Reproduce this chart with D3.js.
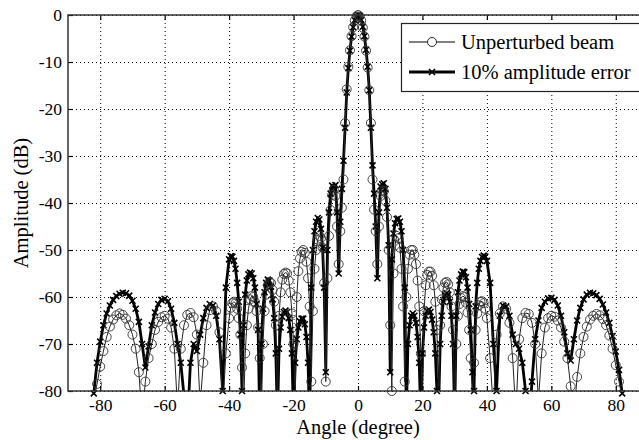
<!DOCTYPE html>
<html>
<head>
<meta charset="utf-8">
<script src="https://cdn.jsdelivr.net/npm/d3@7"></script>
<style>
  body { margin: 0; background: #fff; }
  svg { display: block; }
</style>
</head>
<body>
<div id="chart"></div>
<script>
// angle samples (degree): 1 deg in the far lobes, 0.5 deg within +-40
const angles = [
  -82, -81, -80, -79, -78, -77, -76, -75, -74, -73,
  -72, -71, -70, -69, -68, -67, -66, -65, -64, -63,
  -62, -61, -60, -59, -58, -57, -56, -55, -54, -53,
  -52, -51, -50, -49, -48, -47, -46, -45, -44, -43,
  -42, -41,
  -40, -39.5, -39, -38.5, -38, -37.5, -37, -36.5, -36, -35.5,
  -35, -34.5, -34, -33.5, -33, -32.5, -32, -31.5, -31, -30.5,
  -30, -29.5, -29, -28.5, -28, -27.5, -27, -26.5, -26, -25.5,
  -25, -24.5, -24, -23.5, -23, -22.5, -22, -21.5, -21, -20.5,
  -20, -19.5, -19, -18.5, -18, -17.5, -17, -16.5, -16, -15.5,
  -15, -14.5, -14, -13.5, -13, -12.5, -12, -11.5, -11, -10.5,
  -10, -9.5, -9, -8.5, -8, -7.5, -7, -6.5,
  -6, -5.5, -5, -4.5, -4, -3.5, -3, -2.5, -2, -1.5, -1, -0.5,
  0, 0.5, 1, 1.5, 2, 2.5, 3, 3.5, 4, 4.5, 5, 5.5, 6,
  6.5, 7, 7.5, 8, 8.5, 9, 9.5, 10, 10.5, 11,
  11.5, 12, 12.5, 13, 13.5, 14, 14.5, 15, 15.5, 16,
  16.5, 17, 17.5, 18, 18.5, 19, 19.5, 20, 20.5, 21,
  21.5, 22, 22.5, 23, 23.5, 24, 24.5, 25, 25.5, 26,
  26.5, 27, 27.5, 28, 28.5, 29, 29.5, 30, 30.5, 31,
  31.5, 32, 32.5, 33, 33.5, 34, 34.5, 35, 35.5, 36,
  36.5, 37, 37.5, 38, 38.5, 39, 39.5, 40,
  41, 42, 43, 44, 45, 46, 47, 48, 49, 50,
  51, 52, 53, 54, 55, 56, 57, 58, 59, 60,
  61, 62, 63, 64, 65, 66, 67, 68, 69, 70,
  71, 72, 73, 74, 75, 76, 77, 78, 79, 80,
  81, 82
];

// unperturbed beam (dB)
const unperturbedDb = [
  -82, -78.5, -74.8, -71.5, -68.5, -66.3, -64.8, -63.9, -63.5, -63.8,
  -64.6, -66, -68, -71, -76, -86, -78, -73, -70, -67,
  -65.3, -64.3, -64, -64.6, -66.5, -71, -84, -71, -66, -63.8,
  -63.4, -64.3, -68, -83, -74, -66, -62.8, -62, -63, -67.5,
  -84, -72,
  -64.5, -62.3, -61.3, -61, -61.3, -62.5, -64.5, -68, -75, -84,
  -72, -66, -62.5, -60.5, -59.8, -60, -61, -63, -66.5, -73,
  -85, -70, -63, -59.5, -57.5, -56.8, -57, -58.5, -61, -66,
  -82, -64, -59, -56.3, -55.1, -54.8, -55, -56.5, -59, -63.5,
  -70, -82, -60, -54.5, -51.8, -50.4, -50, -50.6, -52.5, -56,
  -62, -78, -63, -54, -50, -47.8, -47, -47.5, -49.5, -57,
  -78, -56, -47, -41.5, -38.3, -37.2, -38.5, -45,
  -53, -46, -41, -35, -23, -15.8, -11, -7.5, -4.5, -2.6, -1.2, -0.3,
  0, -0.3, -1.2, -2.7, -4.6, -7.6, -11.2, -16, -23, -35, -41.4, -46, -53,
  -45, -38.5, -37.3, -37.5, -39.5, -43, -50, -66, -80, -55,
  -49, -47, -47.5, -49.5, -54, -62, -78, -60, -54, -51,
  -50, -50, -51, -53, -56.5, -62, -72, -82, -63, -57.5,
  -55.3, -54.6, -54.6, -55.5, -57.5, -61, -67, -84, -66, -60.5,
  -58, -57, -56.8, -57.3, -59, -62, -67, -82, -70, -64,
  -61.5, -60.2, -59.8, -60, -61.2, -63.3, -67, -73, -82, -74,
  -67, -63.5, -61.8, -61, -60.9, -61.3, -62.5, -64.5,
  -73, -84, -68, -63.5, -62, -62.5, -65.5, -73, -85, -69,
  -64.5, -63.4, -63.6, -65.5, -70, -82, -72, -66.5, -64.5, -64,
  -64.2, -65, -66.5, -69.5, -73, -79, -85, -77, -72, -68.5,
  -66.3, -64.8, -64, -63.6, -63.9, -64.7, -66, -68.2, -71, -74.5,
  -78, -81.5
];

// 10% amplitude error (dB)
const amplitudeErrorDb = [
  -80.5, -74, -69.5, -66, -63.5, -61.8, -60.6, -59.8, -59.3, -59.1,
  -59.2, -59.7, -60.8, -62.5, -65.3, -70, -75, -70.5, -66, -63.3,
  -61.5, -60.6, -60.4, -60.9, -62.5, -65.5, -70, -74, -81, -88,
  -74, -70, -71.5, -68, -64.5, -62.3, -61.5, -61.8, -64, -69,
  -80, -58,
  -52, -51.3, -51.4, -52.3, -54, -57, -61, -68, -80, -66,
  -59.5, -56.5, -55.2, -54.8, -55, -56, -58, -61.5, -67, -86,
  -70, -62.5, -59, -57, -56.3, -56.5, -57.8, -60.5, -64.5, -72,
  -86, -71, -66.5, -64.2, -63.2, -62.9, -63.2, -64.5, -67, -72,
  -86, -74, -69, -66.5, -65.2, -64.6, -64.6, -65.8, -68.5, -74,
  -88, -58, -50, -46, -44, -43.2, -43.5, -45.5, -49.5, -58,
  -76, -50, -42, -38, -36.3, -36.8, -36.2, -42,
  -55, -44, -37, -31, -24, -16.5, -11.3, -7.6, -4.6, -2.6, -1.1, -0.3,
  0, -0.2, -1, -2.5, -4.5, -7.4, -11, -16, -24, -32, -38, -45, -56,
  -42, -36.5, -36, -35.8, -37, -41, -49, -76, -52, -46.5,
  -44.3, -43.4, -43.3, -44, -46, -50, -58, -85, -70, -66,
  -64, -63.5, -64, -65.5, -68.5, -74, -86, -72, -66.5, -64,
  -63, -62.7, -63.2, -64.8, -67.5, -72, -80, -84, -70, -64,
  -61, -59.6, -59.2, -59.5, -61, -64, -70, -86, -64, -59,
  -56.5, -55.2, -54.6, -54.7, -55.8, -58, -61.5, -67, -76, -80,
  -62, -57, -54, -52.3, -51.5, -51.2, -51.4, -52.3,
  -57, -70, -80, -64, -61.8, -62, -64, -68, -70, -71,
  -74, -80, -88, -78, -69, -65, -62.3, -61, -60.3, -60.2,
  -60.6, -61.8, -64, -67.5, -72, -73.5, -69, -65, -62.3, -60.5,
  -59.5, -59.1, -59.2, -59.6, -60.4, -61.6, -63.3, -65.5, -68.3, -71.6,
  -75.5, -80.5
];

const xTickValues = [-80, -60, -40, -20, 0, 20, 40, 60, 80];
const yTickValues = [0, -10, -20, -30, -40, -50, -60, -70, -80];
const legendLabels = ['Unperturbed beam', '10% amplitude error'];

const SERIF = '"Liberation Serif", "DejaVu Serif", "Times New Roman", Times, serif';
const X_MARK = 'M-3,-3L3,3M-3,3L3,-3';

class PatternChart {
  constructor(_config) {
    this.config = {
      parentElement: _config.parentElement,
      containerWidth: 639,
      containerHeight: 440,
      margin: { top: 15, right: -9, bottom: 49, left: 68 },
    };
    this.initVis();
  }

  initVis() {
    const vis = this;
    vis.width = vis.config.containerWidth - vis.config.margin.left - vis.config.margin.right;
    vis.height = vis.config.containerHeight - vis.config.margin.top - vis.config.margin.bottom;

    if (angles.length !== unperturbedDb.length || angles.length !== amplitudeErrorDb.length) {
      throw new Error(`length mismatch ${angles.length} ${unperturbedDb.length} ${amplitudeErrorDb.length}`);
    }

    vis.svg = d3.select(vis.config.parentElement)
      .append('svg')
      .attr('width', vis.config.containerWidth)
      .attr('height', vis.config.containerHeight)
      .attr('font-family', SERIF);

    vis.chartArea = vis.svg.append('g')
      .attr('transform', `translate(${vis.config.margin.left},${vis.config.margin.top})`);

    vis.chartArea.append('clipPath')
      .attr('id', 'plot-clip')
      .append('rect')
      .attr('width', vis.width)
      .attr('height', vis.height);

    vis.xScale = d3.scaleLinear().domain([-90, 90]).range([0, vis.width]);
    vis.yScale = d3.scaleLinear().domain([-80, 0]).range([vis.height, 0]);

    vis.data = angles.map((a, i) => ({ angle: a, u: unperturbedDb[i], e: amplitudeErrorDb[i] }));

    vis.renderVis();
  }

  renderVis() {
    const vis = this;
    const x = vis.xScale;
    const y = vis.yScale;

    // dotted grid
    const grid = vis.chartArea.append('g').attr('class', 'grid')
      .attr('stroke', '#000')
      .attr('stroke-width', 1)
      .attr('stroke-dasharray', '1,3');
    grid.selectAll('.vgrid')
      .data(xTickValues)
      .join('line')
      .attr('x1', (d) => x(d) + 0.5)
      .attr('x2', (d) => x(d) + 0.5)
      .attr('y1', 0)
      .attr('y2', vis.height);
    grid.selectAll('.hgrid')
      .data(yTickValues)
      .join('line')
      .attr('x1', 0)
      .attr('x2', vis.width)
      .attr('y1', (d) => y(d) + 0.5)
      .attr('y2', (d) => y(d) + 0.5);

    const plot = vis.chartArea.append('g').attr('clip-path', 'url(#plot-clip)');

    const lineE = d3.line().x((d) => x(d.angle)).y((d) => y(d.e));
    const lineU = d3.line().x((d) => x(d.angle)).y((d) => y(d.u));

    // 10% amplitude error: thick line with x markers
    plot.append('path')
      .datum(vis.data)
      .attr('d', lineE)
      .attr('fill', 'none')
      .attr('stroke', '#000')
      .attr('stroke-width', 2.8)
      .attr('stroke-linejoin', 'round');

    vis.chartArea.selectAll('.mark-e')
      .data(vis.data.filter((d) => d.e >= -80.5))
      .join('path')
      .attr('class', 'mark-e')
      .attr('transform', (d) => `translate(${x(d.angle)},${y(d.e)})`)
      .attr('d', X_MARK)
      .attr('stroke', '#000')
      .attr('stroke-width', 1.6);

    // unperturbed: thin line with open circles
    plot.append('path')
      .datum(vis.data)
      .attr('d', lineU)
      .attr('fill', 'none')
      .attr('stroke', '#222')
      .attr('stroke-width', 1);

    vis.chartArea.selectAll('.mark-u')
      .data(vis.data.filter((d) => d.u >= -80.5))
      .join('circle')
      .attr('class', 'mark-u')
      .attr('cx', (d) => x(d.angle))
      .attr('cy', (d) => y(d.u))
      .attr('r', 4.5)
      .attr('fill', 'none')
      .attr('stroke', '#333')
      .attr('stroke-width', 0.9);

    // axes with inward ticks
    const xAxis = d3.axisBottom(x).tickValues(xTickValues).tickSize(-5).tickPadding(8)
      .tickFormat((d) => String(d));
    const yAxis = d3.axisLeft(y).tickValues(yTickValues).tickSize(-5).tickPadding(6)
      .tickFormat((d) => String(d));
    const xTop = d3.axisTop(x).tickValues(xTickValues).tickSize(-5).tickFormat('');

    const xAxisG = vis.chartArea.append('g')
      .attr('transform', `translate(0,${vis.height})`)
      .call(xAxis);
    const yAxisG = vis.chartArea.append('g').call(yAxis);
    const xTopG = vis.chartArea.append('g').call(xTop);

    [xAxisG, yAxisG, xTopG].forEach((g) => {
      g.attr('font-family', SERIF).attr('font-size', 17.5);
      g.select('.domain').remove();
      g.selectAll('line').attr('stroke', '#000').attr('stroke-width', 1.2);
      g.selectAll('text').attr('fill', '#000');
    });

    // box
    vis.chartArea.append('rect')
      .attr('width', vis.width)
      .attr('height', vis.height)
      .attr('fill', 'none')
      .attr('stroke', '#333')
      .attr('stroke-width', 1.5);

    // axis titles
    vis.svg.append('text')
      .attr('x', 358)
      .attr('y', 434)
      .attr('text-anchor', 'middle')
      .attr('font-size', 20.5)
      .text('Angle (degree)');

    vis.svg.append('text')
      .attr('transform', 'translate(28,203) rotate(-90)')
      .attr('text-anchor', 'middle')
      .attr('font-size', 20.5)
      .text('Amplitude (dB)');

    // legend
    const legend = vis.svg.append('g').attr('transform', 'translate(401,23)');
    legend.append('rect')
      .attr('x', 0.5)
      .attr('y', 0.5)
      .attr('width', 250)
      .attr('height', 68)
      .attr('fill', '#fff')
      .attr('stroke', '#222')
      .attr('stroke-width', 1.2);

    const rows = legend.selectAll('.legend-row')
      .data(legendLabels)
      .join('g')
      .attr('class', 'legend-row')
      .attr('transform', (d, i) => `translate(0,${19 + i * 30})`);

    rows.append('line')
      .attr('x1', 8)
      .attr('x2', 54)
      .attr('stroke', '#000')
      .attr('stroke-width', (d, i) => (i === 0 ? 1 : 2.8));

    rows.filter((d, i) => i === 0).append('circle')
      .attr('cx', 31)
      .attr('r', 4.5)
      .attr('fill', '#fff')
      .attr('stroke', '#222')
      .attr('stroke-width', 1);

    rows.filter((d, i) => i === 1).append('path')
      .attr('transform', 'translate(31,0)')
      .attr('d', X_MARK)
      .attr('stroke', '#000')
      .attr('stroke-width', 1.6);

    rows.append('text')
      .attr('x', 60)
      .attr('dy', '0.35em')
      .attr('font-size', 20.5)
      .text((d) => d);
  }
}

new PatternChart({ parentElement: '#chart' });
</script>
</body>
</html>
